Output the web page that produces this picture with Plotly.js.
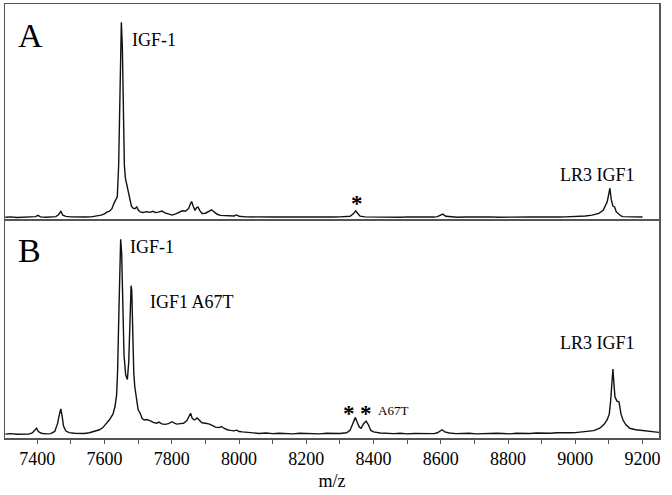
<!DOCTYPE html>
<html>
<head>
<meta charset="utf-8">
<script src="https://cdn.plot.ly/plotly-3.0.1.min.js"></script>
<style>html,body{margin:0;padding:0;background:#fff}#chart{width:672px;height:495px}</style>
</head>
<body>
<div id="chart"></div>
<script>
// Panel A spectrum (m/z, relative intensity)
const mzA = [7305,7320,7340,7360,7380,7395,7402,7410,7425,7440,7455,7463,7470,7476,7485,7500,7520,7540,7560,7575,7590,7600,7607,7615,7622,7628,7633,7638,7642,7646,7650,7653,7656,7659,7662,7665,7670,7675,7680,7685,7690,7696,7700,7706,7715,7725,7735,7744,7752,7760,7771,7780,7790,7801,7812,7822,7831,7840,7850,7856,7859,7864,7869,7874,7878,7884,7890,7900,7912,7919,7926,7935,7945,7960,7975,7985,7993,8000,8020,8040,8060,8080,8100,8120,8140,8160,8180,8200,8220,8240,8260,8280,8300,8320,8330,8340,8347,8352,8360,8375,8400,8420,8440,8460,8480,8500,8520,8540,8560,8580,8590,8600,8606,8615,8630,8650,8670,8690,8710,8730,8750,8770,8790,8810,8830,8850,8870,8890,8910,8930,8950,8970,8990,9010,9030,9050,9070,9083,9095,9103,9107,9112,9117,9122,9130,9136,9142,9160,9180,9200,9220,9249];
const intA = [0.8,1.0,0.7,0.9,0.8,1.1,1.7,1.0,0.8,0.9,1.1,2.0,3.6,1.8,1.2,1.0,0.8,0.9,1.0,1.3,1.8,2.4,3.2,3.6,4.8,7.3,8.8,10.3,25,60,91.5,80,45,25,19,17,13,9,6,5.0,4.8,5.6,4.3,3.3,3.0,3.4,3.1,3.6,3.0,3.2,3.7,2.8,2.2,1.8,2.4,3.0,3.8,3.6,4.8,7.3,8.1,5.8,4.0,5.3,5.5,3.8,2.6,2.7,3.6,4.3,3.3,2.2,1.7,1.6,1.3,1.4,1.9,1.3,1.0,0.9,1.0,0.8,0.9,1.0,0.8,0.9,1.0,0.8,0.9,1.0,0.8,0.9,1.0,1.1,1.3,2.4,3.8,2.8,1.3,1.0,0.9,0.8,1.0,0.9,0.8,1.0,0.9,0.8,1.0,0.9,1.1,2.0,2.3,1.3,1.0,0.8,0.9,1.0,0.8,0.9,1.0,0.8,0.9,1.0,0.8,0.9,1.0,0.9,0.8,1.0,0.9,1.0,1.1,1.2,1.4,1.8,2.6,4.0,8,14.3,9,6,5.6,3.3,2.0,1.4,1.1,1.0,0.9,0.9];

// Panel B spectrum (m/z, relative intensity)
const mzB = [7305,7320,7340,7360,7375,7385,7392,7398,7403,7412,7425,7440,7452,7460,7466,7470,7474,7478,7485,7495,7510,7525,7540,7555,7570,7585,7595,7606,7615,7625,7631,7636,7639,7643,7648,7651,7654,7658,7663,7668,7672,7676,7679,7681,7684,7687,7690,7695,7700,7706,7712,7718,7725,7735,7745,7755,7762,7770,7780,7790,7801,7808,7815,7825,7835,7845,7852,7856,7861,7868,7875,7882,7890,7900,7910,7920,7930,7940,7948,7955,7965,7975,7985,7993,8000,8010,8025,8040,8060,8080,8100,8120,8140,8160,8180,8200,8220,8240,8260,8280,8300,8320,8330,8338,8346,8352,8358,8363,8370,8378,8385,8392,8400,8420,8440,8460,8480,8500,8520,8540,8560,8580,8590,8598,8604,8612,8625,8645,8665,8685,8705,8725,8745,8765,8785,8805,8825,8845,8865,8885,8905,8925,8945,8965,8985,9000,9030,9055,9073,9085,9095,9101,9105,9109,9112,9115,9118,9124,9130,9136,9142,9150,9162,9180,9202,9220,9249];
const intB = [1.8,2.0,1.7,1.9,1.8,2.3,3.5,4.5,3.0,2.2,1.9,2.0,3.0,6.5,11,13.4,10,5.5,3.2,2.5,2.2,2.0,2.1,2.4,3.0,3.8,4.8,6.8,8.5,11,14.4,20,31.3,60,91.6,85,60,38,29,27,35,60,70.2,68,45,30,23.6,17,13,11.4,9,8.3,8.5,8.0,7.2,6.8,7.3,6.5,6.3,6.6,7.5,6.8,6.4,6.6,6.8,8.0,10,11.4,9.0,8.3,9.2,8.0,7.0,6.8,6.5,5.8,5.0,4.8,5.3,4.5,3.8,3.5,3.3,3.6,3.0,2.8,2.5,2.3,2.1,2.3,2.0,2.2,2.1,1.9,2.2,2.0,2.1,1.9,2.2,2.0,2.1,2.4,3.5,6.5,9.5,7.0,5.0,4.5,6.5,7.8,6.0,3.5,2.8,2.3,2.1,2.0,2.2,1.9,2.1,2.0,2.2,2.0,2.4,3.2,3.8,2.8,2.3,2.0,2.1,2.2,1.9,2.1,2.0,2.2,2.1,1.9,2.2,2.0,2.1,2.3,2.1,2.2,2.4,2.3,2.4,2.5,2.8,3.4,4.5,6.2,8.5,11,16.7,26,31.8,25,19,17,16.7,11,8.3,6.2,4.5,3.8,3.4,3.0,2.6];

const serif = 'Liberation Serif, Times New Roman, serif';
const lineCol = '#555';

const traces = [
  {x: mzA, y: intA, xaxis: 'x2', yaxis: 'y2', mode: 'lines', line: {color: '#111', width: 1.4}, hoverinfo: 'skip'},
  {x: mzB, y: intB, xaxis: 'x', yaxis: 'y', mode: 'lines', line: {color: '#111', width: 1.4}, hoverinfo: 'skip'}
];

function lab(text, x, y, xref, yref, size, xanchor) {
  return {text: text, x: x, y: y, xref: xref, yref: yref, showarrow: false,
          xanchor: xanchor || 'left', yanchor: 'middle', font: {family: serif, size: size, color: '#000'}};
}

const layout = {
  width: 672, height: 495,
  margin: {l: 5, r: 13, t: 4, b: 57},
  paper_bgcolor: '#fff', plot_bgcolor: '#fff',
  showlegend: false,
  xaxis: {
    domain: [0, 1], anchor: 'y', range: [7304, 9249],
    showline: true, mirror: true, linecolor: lineCol, linewidth: 1.5,
    showgrid: false, zeroline: false,
    ticks: 'outside', ticklen: 4, tickcolor: lineCol, tickwidth: 1,
    tick0: 7400, dtick: 200,
    minor: {dtick: 100, ticks: 'outside', ticklen: 4, tickcolor: lineCol, showgrid: false},
    tickfont: {family: serif, size: 18, color: '#000'},
    title: {text: 'm/z', font: {family: serif, size: 18, color: '#000'}, standoff: 6}
  },
  yaxis: {
    domain: [0, 0.5], range: [0, 100],
    showline: true, mirror: true, linecolor: lineCol, linewidth: 1.5,
    showgrid: false, zeroline: false, showticklabels: false, ticks: ''
  },
  xaxis2: {
    domain: [0, 1], anchor: 'y2', matches: 'x', range: [7304, 9249],
    showline: true, mirror: true, linecolor: lineCol, linewidth: 1.5,
    showgrid: false, zeroline: false, showticklabels: false, ticks: ''
  },
  yaxis2: {
    domain: [0.5046, 1], range: [0, 100],
    showline: true, mirror: true, linecolor: lineCol, linewidth: 1.5,
    showgrid: false, zeroline: false, showticklabels: false, ticks: ''
  },
  annotations: [
    lab('A', 7337, 85.5, 'x2', 'y2', 34),
    lab('IGF-1', 7676, 83.4, 'x2', 'y2', 18),
    lab('<b>*</b>', 8350, 7.0, 'x2', 'y2', 23, 'center'),
    lab('LR3 IGF1', 8949, 20.5, 'x2', 'y2', 18),
    lab('B', 7337, 86.2, 'x', 'y', 34),
    lab('IGF-1', 7669, 88.2, 'x', 'y', 18),
    lab('IGF1 A67T', 7728, 62.8, 'x', 'y', 18),
    lab('<b>*</b>', 8328, 11.5, 'x', 'y', 23, 'center'),
    lab('<b>*</b>', 8378, 11.5, 'x', 'y', 23, 'center'),
    lab('A67T', 8406, 12.8, 'x', 'y', 13),
    lab('LR3 IGF1', 8949, 43.6, 'x', 'y', 18)
  ]
};

Plotly.newPlot('chart', traces, layout, {displayModeBar: false, staticPlot: true});
</script>
</body>
</html>
